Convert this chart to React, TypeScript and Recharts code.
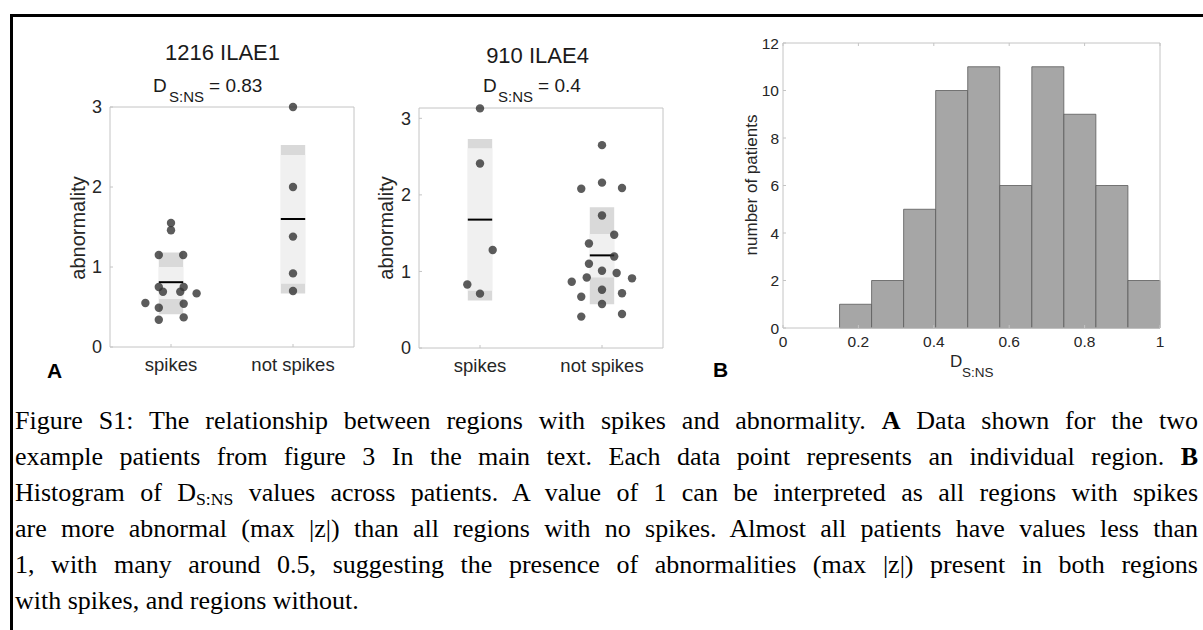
import React from "react";
import {
  ScatterChart,
  Scatter,
  XAxis,
  YAxis,
  ReferenceArea,
  ReferenceLine,
  BarChart,
  Bar,
} from "recharts";

// ---- panel A: per-region abnormality, split by spike / no spike ----
const groupNames = ["spikes", "not spikes"];
const patientTitles = ["1216 ILAE1", "910 ILAE4"];
const dSns = ["0.83", "0.4"];

// patient 1216 (ILAE1)
const p1216SpikeValues = [1.55, 1.46, 1.15, 1.15, 0.75, 0.69, 0.69, 0.75, 0.67, 0.55, 0.54, 0.49, 0.37, 0.34];
const p1216SpikeJitter = [0, 0, -0.1, 0.1, -0.1, -0.066, 0.076, 0.104, 0.21, -0.21, 0.104, -0.1, 0.104, -0.1];
const p1216NoSpikeValues = [3.0, 2.0, 1.38, 0.92, 0.7];
const p1216NoSpikeJitter = [0, 0, 0, 0, 0];
// [low, inner low, mean, inner high, high]
const p1216SpikeBox = [0.41, 0.6, 0.81, 1.0, 1.18];
const p1216NoSpikeBox = [0.67, 0.79, 1.6, 2.4, 2.525];

// patient 910 (ILAE4)
const p910SpikeValues = [3.13, 2.41, 1.28, 0.83, 0.71];
const p910SpikeJitter = [0, 0, 0.104, -0.104, 0];
const p910NoSpikeValues = [
  2.65, 2.08, 2.16, 2.09, 1.73, 1.48, 1.365, 1.195, 1.1, 1.01,
  0.98, 0.92, 0.91, 0.865, 0.76, 0.715, 0.67, 0.575, 0.445, 0.41,
];
const p910NoSpikeJitter = [
  0, -0.17, 0, 0.164, 0, 0.1, -0.107, 0.1, -0.107, 0,
  0.12, -0.125, 0.246, -0.248, 0, 0.164, -0.17, 0, 0.164, -0.17,
];
const p910SpikeBox = [0.62, 0.747, 1.677, 2.61, 2.73];
const p910NoSpikeBox = [0.57, 0.92, 1.21, 1.49, 1.838];

const abnormalityTicks = [0, 1, 2, 3];

// ---- panel B: histogram of D_S:NS across patients ----
const binEdges = [0.15, 0.235, 0.32, 0.405, 0.49, 0.575, 0.66, 0.745, 0.83, 0.915, 1.0];
const patientCounts = [1, 2, 5, 10, 11, 6, 11, 9, 6, 2];
const histXTicks = [0, 0.2, 0.4, 0.6, 0.8, 1];
const histYTicks = [0, 2, 4, 6, 8, 10, 12];

const SANS = '"Liberation Sans", Arial, Helvetica, sans-serif';
const SERIF = '"Liberation Serif", "Times New Roman", serif';
const frameColor = "#c4c4c4";
const labelColor = "#262626";
const tickLen = 3;

type Group = { values: number[]; jitter: number[]; box: number[] };

const fmtNum = (v: number) => String(Number(v.toFixed(2)));

// tick renderers: label outside, short tick mark inside the box
const leftTick = (fontSize: number, gap: number, fmt: (v: any) => string) => (p: any) => (
  <g>
    <line x1={p.x} x2={p.x + tickLen} y1={p.y} y2={p.y} stroke={frameColor} />
    <text x={p.x - gap} y={p.y} dy="0.36em" textAnchor="end" fontSize={fontSize} fontFamily={SANS} fill={labelColor}>
      {fmt(p.payload.value)}
    </text>
  </g>
);
const bottomTick = (fontSize: number, offset: number, fmt: (v: any) => string) => (p: any) => (
  <g>
    <line x1={p.x} x2={p.x} y1={p.y} y2={p.y - tickLen} stroke={frameColor} />
    <text x={p.x} y={p.y + offset} textAnchor="middle" fontSize={fontSize} fontFamily={SANS} fill={labelColor}>
      {fmt(p.payload.value)}
    </text>
  </g>
);
const rightTick = (p: any) => <line x1={p.x} x2={p.x - tickLen} y1={p.y} y2={p.y} stroke={frameColor} />;
const topTick = (p: any) => <line x1={p.x} x2={p.x} y1={p.y} y2={p.y + tickLen} stroke={frameColor} />;

const regionDot = (p: any) => <circle cx={p.cx} cy={p.cy} r={4.2} fill="#333333" fillOpacity={0.8} />;

// shared props for the thin frame axes (1px thick so they still render)
const frameAxis = {
  interval: 0 as const,
  tickSize: 0,
  tickMargin: 0,
  tickLine: false,
  axisLine: { stroke: frameColor },
};

function RegionPanel({
  groups,
  yMax,
  width,
  margin,
}: {
  groups: Group[];
  yMax: number;
  width: number;
  margin: { top: number; right: number; bottom: number; left: number };
}) {
  const points = groups.flatMap((g, i) => g.values.map((v, k) => ({ x: i + 1 + g.jitter[k], y: v })));
  const half = 0.1;
  return (
    <ScatterChart width={width} height={390} margin={margin}>
      <XAxis
        {...frameAxis}
        type="number"
        dataKey="x"
        domain={[0.5, 2.5]}
        ticks={[1, 2]}
        height={1}
        tick={bottomTick(18.5, 24, (v) => groupNames[v - 1])}
      />
      <XAxis
        {...frameAxis}
        xAxisId="top"
        orientation="top"
        type="number"
        dataKey="x"
        domain={[0.5, 2.5]}
        ticks={[1, 2]}
        height={1}
        tick={topTick}
      />
      <YAxis
        {...frameAxis}
        type="number"
        dataKey="y"
        domain={[0, yMax]}
        ticks={abnormalityTicks}
        width={1}
        tick={leftTick(18, 8, fmtNum)}
      />
      <YAxis
        {...frameAxis}
        yAxisId="right"
        orientation="right"
        type="number"
        dataKey="y"
        domain={[0, yMax]}
        ticks={abnormalityTicks}
        width={1}
        tick={rightTick}
      />
      {groups.map((g, i) => (
        <React.Fragment key={i}>
          <ReferenceArea x1={i + 1 - half} x2={i + 1 + half} y1={g.box[0]} y2={g.box[4]} fill="#d9d9d9" fillOpacity={1} stroke="none" />
          <ReferenceArea x1={i + 1 - half} x2={i + 1 + half} y1={g.box[1]} y2={g.box[3]} fill="#f0f0f0" fillOpacity={1} stroke="none" />
          <ReferenceLine
            segment={[
              { x: i + 1 - half, y: g.box[2] },
              { x: i + 1 + half, y: g.box[2] },
            ]}
            stroke="#000"
            strokeWidth={2}
          />
        </React.Fragment>
      ))}
      <Scatter data={points} isAnimationActive={false} shape={regionDot} />
    </ScatterChart>
  );
}

function DsnsHistogram() {
  const bins = patientCounts.map((count, i) => ({ mid: (binEdges[i] + binEdges[i + 1]) / 2, count }));
  return (
    <BarChart
      width={483}
      height={390}
      data={bins}
      margin={{ top: 42, right: 42, bottom: 61, left: 62 }}
      barCategoryGap={0}
      barGap={0}
    >
      <XAxis
        {...frameAxis}
        type="number"
        dataKey="mid"
        domain={[0, 1]}
        ticks={histXTicks}
        height={1}
        tick={bottomTick(15.5, 19, fmtNum)}
      />
      <XAxis
        {...frameAxis}
        xAxisId="top"
        orientation="top"
        type="number"
        dataKey="mid"
        domain={[0, 1]}
        ticks={histXTicks}
        height={1}
        tick={topTick}
      />
      <YAxis {...frameAxis} type="number" domain={[0, 12]} ticks={histYTicks} width={1} tick={leftTick(15.5, 4, fmtNum)} />
      <YAxis
        {...frameAxis}
        yAxisId="right"
        orientation="right"
        type="number"
        domain={[0, 12]}
        ticks={histYTicks}
        width={1}
        tick={rightTick}
      />
      <Bar dataKey="count" fill="#a6a6a6" stroke="#5a5a5a" strokeWidth={0.8} isAnimationActive={false} />
    </BarChart>
  );
}

const captionLine = (top: number, last = false): React.CSSProperties => ({
  position: "absolute",
  left: 15,
  top,
  width: 1183,
  fontFamily: SERIF,
  fontSize: 26,
  lineHeight: "36px",
  color: "#000",
  textAlign: "justify",
  textAlignLast: last ? "left" : "justify",
});

const Sub = ({ children }: { children: React.ReactNode }) => (
  <span style={{ fontSize: "0.68em", verticalAlign: "-0.22em", lineHeight: 0 }}>{children}</span>
);

export default function App() {
  const panel1216: Group[] = [
    { values: p1216SpikeValues, jitter: p1216SpikeJitter, box: p1216SpikeBox },
    { values: p1216NoSpikeValues, jitter: p1216NoSpikeJitter, box: p1216NoSpikeBox },
  ];
  const panel910: Group[] = [
    { values: p910SpikeValues, jitter: p910SpikeJitter, box: p910SpikeBox },
    { values: p910NoSpikeValues, jitter: p910NoSpikeJitter, box: p910NoSpikeBox },
  ];

  return (
    <div
      style={{
        position: "absolute",
        left: 0,
        top: 0,
        width: 1203,
        height: 630,
        background: "#fff",
        overflow: "hidden",
      }}
    >
      {/* frame */}
      <div
        style={{
          position: "absolute",
          left: 10,
          top: 14,
          width: 1200,
          height: 620,
          borderTop: "3px solid #000",
          borderLeft: "3px solid #000",
        }}
      />

      <div style={{ position: "absolute", left: 0, top: 0 }}>
        <RegionPanel groups={panel1216} yMax={3} width={370} margin={{ top: 106, right: 15, bottom: 42, left: 109 }} />
      </div>
      <div style={{ position: "absolute", left: 360, top: 0 }}>
        <RegionPanel groups={panel910} yMax={3.135} width={320} margin={{ top: 107, right: 16, bottom: 41, left: 58 }} />
      </div>
      <div style={{ position: "absolute", left: 720, top: 0 }}>
        <DsnsHistogram />
      </div>

      {/* titles, axis names and panel letters */}
      <svg
        width={1203}
        height={630}
        style={{ position: "absolute", left: 0, top: 0, pointerEvents: "none" }}
        fontFamily={SANS}
      >
        <text x={222.5} y={60} textAnchor="middle" fontSize={22} fill="#1a1a1a">{patientTitles[0]}</text>
        <text x={537.5} y={63} textAnchor="middle" fontSize={22} fill="#1a1a1a">{patientTitles[1]}</text>

        <text y={92} fontSize={19} fill="#1a1a1a">
          <tspan x={153}>D</tspan>
          <tspan x={169} y={101.5} fontSize={15}>S:NS</tspan>
          <tspan x={209} y={92}>= {dSns[0]}</tspan>
        </text>
        <text y={92} fontSize={19} fill="#1a1a1a">
          <tspan x={483}>D</tspan>
          <tspan x={498} y={101.5} fontSize={15}>S:NS</tspan>
          <tspan x={538} y={92}>= {dSns[1]}</tspan>
        </text>

        <text transform="translate(79 228) rotate(-90)" textAnchor="middle" dy="0.3em" fontSize={20} fill={labelColor}>abnormality</text>
        <text transform="translate(387 228) rotate(-90)" textAnchor="middle" dy="0.3em" fontSize={20} fill={labelColor}>abnormality</text>
        <text transform="translate(752 185) rotate(-90)" textAnchor="middle" dy="0.3em" fontSize={17} fill={labelColor}>number of patients</text>

        <text y={367} fontSize={17} fill={labelColor}>
          <tspan x={950}>D</tspan>
          <tspan x={962} y={377} fontSize={13.5}>S:NS</tspan>
        </text>

        <text x={47} y={378} fontSize={21} fontWeight="bold" fill="#000">A</text>
        <text x={713} y={377} fontSize={21} fontWeight="bold" fill="#000">B</text>
      </svg>

      {/* caption */}
      <div style={captionLine(403)}>
        Figure S1: The relationship between regions with spikes and abnormality. <b>A</b> Data shown for the two
      </div>
      <div style={captionLine(439)}>
        example patients from figure 3 In the main text. Each data point represents an individual region. <b>B</b>
      </div>
      <div style={captionLine(475)}>
        Histogram of D<Sub>S:NS</Sub> values across patients. A value of 1 can be interpreted as all regions with spikes
      </div>
      <div style={captionLine(511)}>
        are more abnormal (max |z|) than all regions with no spikes. Almost all patients have values less than
      </div>
      <div style={captionLine(547)}>
        1, with many around 0.5, suggesting the presence of abnormalities (max |z|) present in both regions
      </div>
      <div style={captionLine(583, true)}>with spikes, and regions without.</div>
    </div>
  );
}
